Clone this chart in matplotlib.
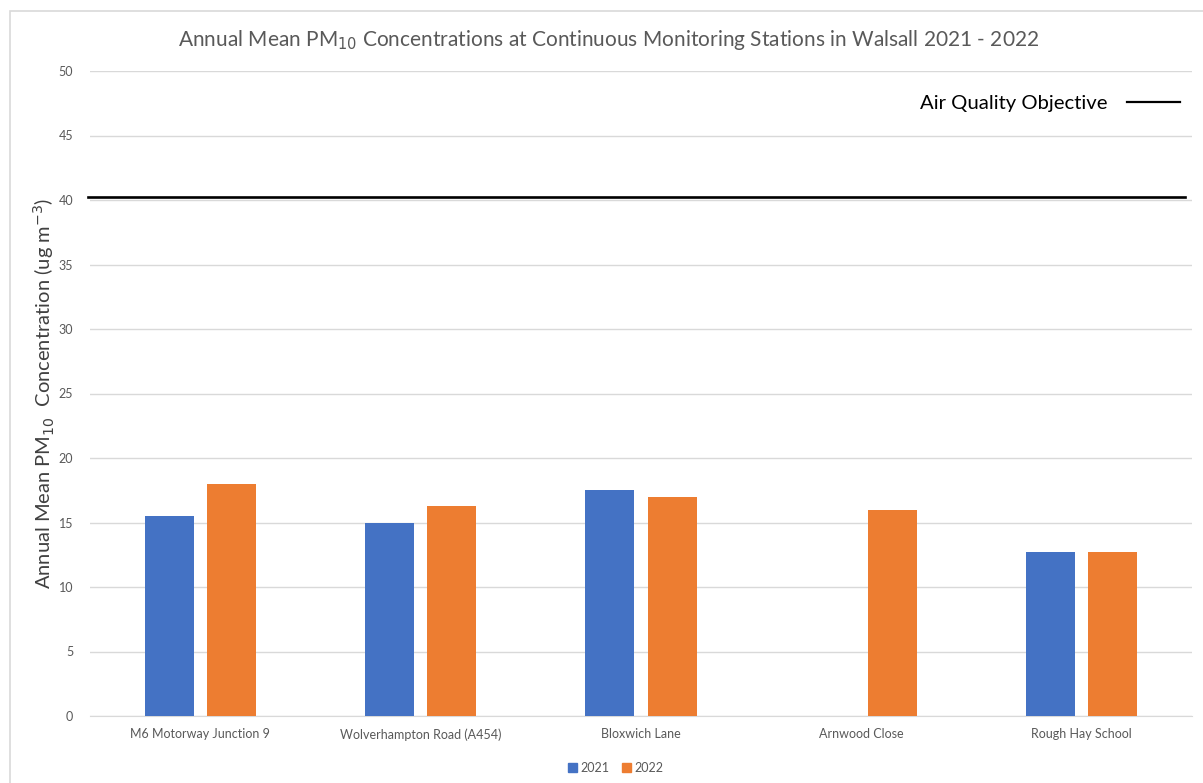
import matplotlib
matplotlib.use("Agg")
import matplotlib.pyplot as plt
from matplotlib.patches import Rectangle, Patch
from matplotlib.lines import Line2D
import numpy as np

plt.rcParams['font.family'] = ['Lato', 'DejaVu Sans']

stations = ["M6 Motorway Junction 9", "Wolverhampton Road (A454)", "Bloxwich Lane",
            "Arnwood Close", "Rough Hay School"]
pm10_2021 = [15.5, 15.0, 17.5, np.nan, 12.7]
pm10_2022 = [18.0, 16.3, 17.0, 16.0, 12.7]
years = ["2021", "2022"]
objective_level = 40.2
y_ticks = [0, 5, 10, 15, 20, 25, 30, 35, 40, 45, 50]

blue = "#4472C4"
orange = "#ED7D31"
grid_col = "#D9D9D9"
text_col = "#595959"

W, H = 1203, 783
fig = plt.figure(figsize=(W / 100, H / 100), dpi=100)
fig.patch.set_facecolor("white")

# chart area frame
fig.patches.append(Rectangle((10 / W, -0.01), 1.02, (H - 11) / H + 0.01,
                             transform=fig.transFigure, fill=False,
                             edgecolor="#D9D9D9", linewidth=1.2))

ax = fig.add_axes([90 / W, (H - 716) / H, (1192 - 90) / W, (716 - 71) / H])
x = np.arange(len(stations))
bw = 0.223
off = 0.141
ax.bar(x - off, pm10_2021, bw, color=blue, zorder=3)
ax.bar(x + off, pm10_2022, bw, color=orange, zorder=3)

ax.set_xlim(-0.5, len(stations) - 0.5)
ax.set_ylim(0, 50)
ax.set_yticks(y_ticks)
ax.yaxis.grid(True, color=grid_col, linewidth=1.0, zorder=0)
ax.set_axisbelow(True)
for s in ["top", "right", "left"]:
    ax.spines[s].set_visible(False)
ax.spines["bottom"].set_color(grid_col)
ax.tick_params(axis="both", length=0, colors=text_col, labelsize=9)
ax.tick_params(axis="y", pad=12)
ax.tick_params(axis="x", pad=9)
ax.set_xticks(x)
ax.set_xticklabels(stations)

# air quality objective line
ax.plot([-0.509, 4.468], [objective_level, objective_level], color="black",
        linewidth=1.9, zorder=4, clip_on=False)

ax.set_ylabel(r"Annual Mean PM$_{10}$  Concentration (ug m$^{-3}$)",
              fontsize=14.5, color="#404040", labelpad=0)
ax.yaxis.set_label_coords(-33 / (1192 - 90), 0.5)

fig.text(0.506, (H - 40) / H,
         r"Annual Mean PM$_{10}$ Concentrations at Continuous Monitoring Stations in Walsall 2021 - 2022",
         ha="center", va="center", fontsize=15, color=text_col)

# objective key
fig.text(1107 / W, (H - 103) / H, "Air Quality Objective", ha="right", va="center",
         fontsize=14.6, color="black")
fig.add_artist(Line2D([1127 / W, 1180 / W], [(H - 102) / H, (H - 102) / H],
                      color="black", linewidth=1.6, transform=fig.transFigure))

handles = [Patch(color=blue), Patch(color=orange)]
fig.legend(handles, years, loc="center", bbox_to_anchor=(0.512, (H - 768) / H),
           ncol=2, frameon=False, fontsize=9, handlelength=0.7, handleheight=0.7,
           handletextpad=0.3, columnspacing=1.0, labelcolor=text_col)

fig.savefig("out.png", dpi=100, facecolor="white")
